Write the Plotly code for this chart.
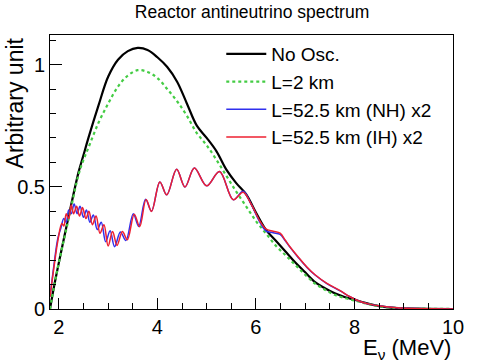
import plotly.graph_objects as go


# neutrino energy grid (MeV) for the smooth spectra
ENERGY = [
    1.82, 1.9, 2.0, 2.2, 2.4, 2.5, 2.6, 2.8, 3.0, 3.2, 3.4, 3.6, 3.8,
    4.0, 4.2, 4.4, 4.6, 4.8, 5.0, 5.2, 5.4, 5.6, 5.8, 6.0, 6.2, 6.4,
    6.6, 6.8, 7.0, 7.2, 7.4, 7.6, 7.8, 8.0, 8.2, 8.4, 8.6, 8.8, 9.0,
    9.5, 10.0,
]

NO_OSC = [
    0.0, 0.09, 0.19, 0.38, 0.56, 0.63, 0.70, 0.83, 0.95, 1.02, 1.055,
    1.068, 1.06, 1.03, 0.99, 0.93, 0.84, 0.75, 0.70, 0.645, 0.57, 0.515,
    0.47, 0.395, 0.325, 0.28, 0.235, 0.19, 0.15, 0.11, 0.085, 0.064,
    0.049, 0.038, 0.026, 0.016, 0.009, 0.005, 0.003, 0.001, 0.0,
]

L_2KM = [
    0.0, 0.09, 0.19, 0.37, 0.55, 0.61, 0.66, 0.76, 0.84, 0.91, 0.955,
    0.977, 0.97, 0.945, 0.90, 0.85, 0.79, 0.72, 0.67, 0.61, 0.545, 0.48,
    0.42, 0.36, 0.31, 0.26, 0.22, 0.18, 0.14, 0.104, 0.079, 0.058,
    0.045, 0.035, 0.024, 0.015, 0.008, 0.005, 0.003, 0.001, 0.0,
]

# L = 52.5 km, inverted hierarchy (x2): points at the wiggle extrema
IH_ENERGY = [
    1.82, 1.9, 1.98, 2.06, 2.10, 2.15, 2.20, 2.25, 2.30, 2.36, 2.42,
    2.48, 2.55, 2.61, 2.68, 2.755, 2.835, 2.915, 3.00, 3.09, 3.18, 3.29,
    3.39, 3.53, 3.64, 3.77, 3.88, 4.05, 4.19, 4.39, 4.56, 4.75, 5.00,
    5.26, 5.54, 5.74, 5.9, 6.08, 6.2, 6.35, 6.49, 6.6, 6.69, 6.85, 7.03,
    7.2, 7.44, 7.71, 7.91, 8.1, 8.3, 8.52, 8.8, 9.06, 9.5, 10.0,
]
IH_X2 = [
    0.05, 0.17, 0.28, 0.35, 0.34, 0.39, 0.37, 0.425, 0.39, 0.42, 0.38,
    0.415, 0.37, 0.40, 0.345, 0.38, 0.31, 0.345, 0.258, 0.317, 0.26,
    0.317, 0.283, 0.388, 0.337, 0.448, 0.399, 0.52, 0.467, 0.572, 0.499,
    0.577, 0.504, 0.563, 0.447, 0.478, 0.43, 0.36, 0.328, 0.318, 0.31,
    0.28, 0.255, 0.215, 0.173, 0.14, 0.105, 0.075, 0.05, 0.032, 0.02,
    0.012, 0.006, 0.003, 0.001, 0.0,
]

# L = 52.5 km, normal hierarchy (x2)
NH_ENERGY = [
    1.82, 1.9, 1.98, 2.04, 2.10, 2.15, 2.20, 2.25, 2.31, 2.37, 2.43,
    2.50, 2.56, 2.63, 2.70, 2.78, 2.86, 2.95, 3.04, 3.13, 3.25, 3.36,
    3.51, 3.62, 3.76, 3.88, 4.05, 4.19, 4.39, 4.56, 4.75, 5.00, 5.26,
    5.54, 5.74, 5.9, 6.08, 6.2, 6.35, 6.49, 6.6, 6.69, 6.85, 7.03, 7.2,
    7.44, 7.71, 7.91, 8.1, 8.3, 8.52, 8.8, 9.06, 9.5, 10.0,
]
NH_X2 = [
    0.05, 0.18, 0.29, 0.33, 0.37, 0.355, 0.405, 0.39, 0.43, 0.39, 0.42,
    0.375, 0.405, 0.355, 0.385, 0.325, 0.355, 0.275, 0.32, 0.255, 0.315,
    0.28, 0.39, 0.338, 0.449, 0.40, 0.52, 0.467, 0.572, 0.499, 0.577,
    0.504, 0.563, 0.447, 0.482, 0.43, 0.355, 0.32, 0.312, 0.305, 0.278,
    0.253, 0.213, 0.171, 0.139, 0.104, 0.074, 0.05, 0.032, 0.02, 0.012,
    0.006, 0.003, 0.001, 0.0,
]

FONT = "Liberation Sans, Arial, Helvetica, sans-serif"

fig = go.Figure()

fig.add_scatter(
    x=ENERGY, y=NO_OSC, name="No Osc.", mode="lines",
    line=dict(color="black", width=2.2, shape="spline"),
)
fig.add_scatter(
    x=ENERGY, y=L_2KM, name="L=2 km", mode="lines",
    line=dict(color="#44cc44", width=2.2, dash="dot", shape="spline"),
)
fig.add_scatter(
    x=NH_ENERGY, y=NH_X2, name="L=52.5 km (NH) x2", mode="lines",
    line=dict(color="#3030ee", width=1.5, shape="spline"),
)
fig.add_scatter(
    x=IH_ENERGY, y=IH_X2, name="L=52.5 km (IH) x2", mode="lines",
    line=dict(color="#ee2030", width=1.5, shape="spline"),
)

fig.update_layout(
    width=504,
    height=362,
    margin=dict(l=50, r=51, t=35, b=53),
    paper_bgcolor="white",
    plot_bgcolor="white",
    font=dict(family=FONT, color="black"),
    title=dict(
        text="Reactor antineutrino spectrum",
        x=0.5, xanchor="center", y=0.968, yanchor="middle",
        font=dict(size=17.5),
    ),
    legend=dict(
        x=0.425, xanchor="left", y=1.0, yanchor="top",
        bgcolor="rgba(0,0,0,0)",
        font=dict(size=19),
        tracegroupgap=0,
        itemwidth=40,
    ),
    xaxis=dict(
        range=[1.82, 10],
        tick0=2, dtick=2,
        ticks="inside", ticklen=11, tickcolor="black",
        showline=True, linecolor="black", linewidth=1, mirror=True,
        showgrid=False, zeroline=False,
        tickfont=dict(size=20),
        minor=dict(dtick=0.5, tick0=2, ticks="inside", ticklen=6,
                   tickcolor="black", showgrid=False),
    ),
    yaxis=dict(
        range=[0, 1.121],
        tick0=0, dtick=0.5,
        ticks="inside", ticklen=12, tickcolor="black",
        showline=True, linecolor="black", linewidth=1, mirror=True,
        showgrid=False, zeroline=False,
        tickfont=dict(size=20),
        minor=dict(dtick=0.1, tick0=0, ticks="inside", ticklen=6,
                   tickcolor="black", showgrid=False),
    ),
    annotations=[
        dict(
            text="Arbitrary unit", textangle=-90,
            xref="paper", yref="paper", x=-0.087, y=1.0,
            xanchor="center", yanchor="top", showarrow=False,
            font=dict(size=23),
        ),
        dict(
            text="E<sub>ν</sub> (MeV)",
            xref="paper", yref="paper", x=1.0, y=-0.147,
            xanchor="right", yanchor="middle", showarrow=False,
            font=dict(size=22),
        ),
    ],
)

fig.write_html(
    "out.html",
    config={"displayModeBar": False},
    post_script="document.body.style.margin='0';",
)
